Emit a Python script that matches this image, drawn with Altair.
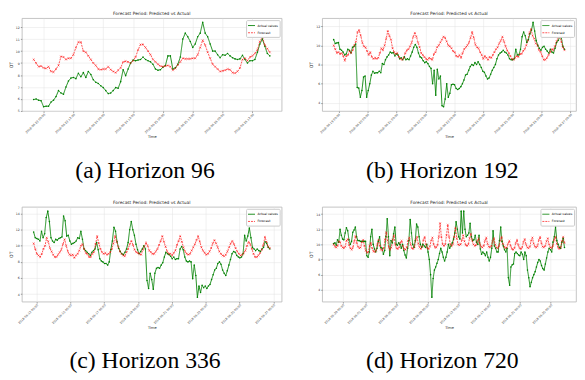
import altair as alt
import pandas as pd

END = "2018-06-26 19:00"
SERIES = ["Actual values", "Forecast"]
COLORS = ["green", "red"]
TITLE = "Forecast Period: Predicted vs Actual"

# ---- (a) Horizon 96 ----
a_actual = [5.95, 6.0, 5.9, 5.85, 5.35, 5.4, 5.4, 5.75, 5.9, 6.2, 6.7, 6.5, 6.4, 7.0, 7.5, 7.75,
            7.8, 7.7, 8.15, 7.85, 8.2, 7.8, 8.3, 8.05, 7.6, 7.4, 7.3, 7.1, 6.95, 6.7, 6.45, 6.5,
            6.7, 6.95, 6.9, 7.45, 8.45, 7.95, 8.5, 9.0, 9.25, 9.2, 9.25, 9.3, 9.5, 9.3, 9.2, 9.1,
            8.9, 8.5, 8.4, 8.45, 8.65, 8.8, 9.6, 9.6, 8.5, 8.6, 8.9, 9.5, 11.0, 11.5, 11.2, 10.8,
            10.3, 10.6, 11.2, 11.5, 12.4, 11.5, 11.2, 10.6, 10.0, 10.0, 9.7, 9.45, 9.7, 9.65, 9.8, 9.6,
            9.45, 9.35, 9.3, 9.35, 9.65, 9.3, 9.0, 9.2, 9.2, 9.3, 9.9, 10.6, 11.0, 10.4, 9.8, 9.6]
a_forecast = [9.3, 9.0, 8.7, 8.75, 8.6, 8.55, 8.7, 8.3, 8.25, 8.5, 8.8, 9.55, 9.5, 9.3, 9.4, 9.4,
              9.7, 10.3, 10.75, 10.75, 10.0, 9.9, 9.6, 9.3, 9.0, 8.8, 8.5, 8.45, 8.5, 8.5, 8.7, 8.45,
              8.3, 8.2, 8.4, 8.6, 9.1, 9.15, 9.1, 9.0, 9.2, 9.5, 10.1, 10.55, 10.55, 10.3, 10.0, 9.7,
              9.3, 9.1, 8.9, 8.75, 8.7, 8.75, 8.8, 8.7, 8.4, 8.55, 8.85, 9.1, 9.4, 9.35, 9.35, 9.35,
              9.4, 9.4, 9.7, 10.3, 10.9, 10.5, 9.9, 9.4, 8.9, 8.7, 8.5, 8.3, 8.35, 8.4, 8.5, 8.45,
              8.2, 8.15, 8.3, 8.6, 9.3, 9.4, 9.2, 9.5, 9.6, 9.8, 10.1, 10.8, 11.15, 10.5, 10.2, 9.9]
a_ticks = ["2018-06-23 00:00", "2018-06-23 12:00", "2018-06-24 00:00", "2018-06-24 12:00",
           "2018-06-25 00:00", "2018-06-25 12:00", "2018-06-26 00:00", "2018-06-26 12:00"]
a_yticks = [5, 6, 7, 8, 9, 10, 11, 12]

# ---- (b) Horizon 192 ----
b_actual = [10.6, 10.2, 10.25, 10.3, 9.6, 9.5, 9.3, 9.0, 9.1, 9.6, 9.5, 9.2, 9.8, 9.9, 10.15, 5.6,
            5.55, 4.6, 5.3, 6.7, 6.8, 4.6, 5.3, 6.0, 6.9, 7.3, 7.1, 7.15, 7.15, 7.3, 7.15, 8.1, 8.0,
            8.5, 8.8, 9.0, 9.3, 9.2, 9.25, 8.9, 9.1, 9.0, 8.6, 8.7, 8.5, 8.8, 8.5, 8.6, 8.5, 8.9, 9.3,
            9.8, 10.1, 9.8, 9.2, 8.8, 8.7, 8.4, 8.2, 8.3, 8.1, 7.8, 7.6, 6.0, 7.4, 4.8, 7.5, 6.5, 6.8,
            3.7, 3.6, 4.4, 6.0, 4.6, 5.0, 5.9, 5.95, 5.9, 5.5, 5.4, 5.5, 5.7, 6.0, 6.4, 6.9, 7.0, 7.4,
            7.8, 8.0, 7.9, 8.2, 8.0, 8.3, 8.0, 7.7, 7.3, 7.2, 6.8, 6.5, 6.6, 7.0, 7.4, 7.7, 8.0, 8.6,
            9.0, 9.2, 9.3, 9.5, 9.3, 9.2, 9.0, 8.6, 8.5, 8.5, 8.6, 9.6, 9.0, 9.0, 9.6, 10.9, 11.4,
            11.0, 10.3, 10.6, 11.2, 11.6, 12.4, 11.5, 10.5, 10.0, 9.7, 9.5, 9.8, 9.9, 9.6, 9.4, 9.2,
            9.6, 9.3, 9.2, 9.7, 10.3, 10.5, 10.9, 10.8, 9.9, 9.6]
b_forecast = [10.0, 9.6, 9.2, 9.3, 9.1, 9.2, 8.9, 8.4, 8.9, 9.0, 9.4, 9.2, 9.5, 10.0, 10.4, 11.4,
              11.6, 11.0, 10.3, 9.9, 9.8, 9.4, 9.0, 9.3, 8.8, 8.6, 8.7, 8.6, 8.7, 9.2, 9.7, 9.5, 10.0,
              10.7, 11.5, 11.0, 10.6, 9.7, 9.3, 9.1, 9.2, 8.8, 8.6, 8.5, 8.7, 9.2, 9.5, 9.6, 9.9, 10.3,
              10.9, 11.3, 10.9, 10.3, 9.8, 9.2, 9.0, 8.8, 8.6, 8.5, 8.7, 8.6, 8.5, 9.1, 9.3, 9.8, 10.0,
              10.3, 10.6, 10.9, 10.8, 10.4, 10.0, 9.9, 9.7, 9.4, 9.3, 8.9, 8.8, 9.0, 8.7, 9.2, 9.6, 9.8,
              10.0, 10.3, 10.8, 11.4, 10.8, 10.1, 9.8, 9.7, 9.3, 9.0, 8.6, 8.9, 8.7, 8.5, 8.8, 8.7, 9.0,
              9.3, 9.6, 9.8, 10.2, 10.5, 10.9, 10.4, 9.9, 9.5, 9.2, 8.9, 8.6, 8.5, 8.7, 8.9, 8.8, 9.1,
              9.1, 9.4, 9.6, 10.0, 10.5, 11.3, 11.7, 11.0, 10.7, 10.2, 10.0, 9.5, 9.3, 8.9, 8.5, 8.5,
              8.7, 9.0, 9.3, 9.6, 9.5, 9.9, 10.4, 10.8, 11.0, 10.4, 9.8, 9.5]
b_ticks = ["2018-06-19 00:00", "2018-06-20 00:00", "2018-06-21 00:00", "2018-06-22 00:00",
           "2018-06-23 00:00", "2018-06-24 00:00", "2018-06-25 00:00", "2018-06-26 00:00",
           "2018-06-27 00:00"]
b_yticks = [4, 6, 8, 10, 12]

# ---- (c) Horizon 336 ----
c_actual = [11.7, 11.0, 10.9, 10.8, 10.6, 11.8, 11.0, 11.5, 13.5, 14.3, 13.0, 11.0, 10.6, 10.4, 10.8,
            10.7, 10.9, 11.0, 11.1, 13.7, 13.1, 11.2, 11.3, 10.6, 10.2, 10.3, 10.4, 10.6, 11.0, 10.9,
            11.8, 10.8, 9.6, 9.4, 9.2, 9.0, 8.8, 9.2, 9.4, 9.6, 10.4, 9.5, 8.4, 8.1, 8.0, 7.8, 7.8, 7.6,
            8.0, 9.5, 10.6, 12.3, 11.8, 10.5, 9.7, 9.3, 9.0, 8.9, 9.2, 9.6, 10.4, 12.0, 13.0, 12.0, 11.3,
            10.2, 9.5, 9.0, 9.3, 9.6, 10.0, 9.6, 5.7, 4.7, 6.6, 5.8, 4.6, 6.6, 7.2, 7.3, 7.2, 7.6, 7.9,
            8.6, 9.2, 9.0, 8.9, 8.7, 8.4, 8.6, 8.3, 8.4, 8.4, 9.6, 9.9, 9.5, 8.6, 8.1, 8.0, 8.1, 8.0,
            5.9, 7.6, 6.3, 3.6, 5.0, 4.2, 5.1, 4.8, 5.0, 4.7, 5.0, 5.2, 5.8, 6.4, 7.0, 7.2, 7.8, 8.0,
            7.7, 7.0, 6.6, 6.3, 6.9, 7.6, 8.3, 9.0, 9.3, 9.2, 8.8, 8.6, 8.5, 8.6, 9.0, 11.3, 10.6, 11.2,
            12.2, 11.0, 9.8, 9.6, 9.4, 9.6, 9.4, 9.3, 9.6, 9.8, 10.5, 10.3, 9.8, 9.6]
c_forecast = [10.3, 9.6, 9.0, 8.8, 8.6, 9.0, 9.6, 10.0, 11.0, 10.5, 9.7, 9.3, 8.9, 8.6, 8.6, 8.9,
              9.2, 9.5, 10.2, 10.8, 10.0, 9.3, 8.9, 8.8, 8.9, 8.5, 8.8, 9.0, 9.4, 10.0, 10.2, 9.6, 9.1,
              9.0, 8.6, 8.6, 9.0, 9.2, 10.2, 11.2, 10.3, 9.6, 9.2, 9.0, 9.1, 8.9, 9.0, 9.2, 9.6, 10.3,
              11.2, 10.5, 9.8, 9.3, 9.0, 8.8, 8.7, 9.2, 9.6, 10.2, 10.6, 10.1, 9.5, 9.2, 9.1, 9.0, 8.9,
              9.5, 9.9, 10.4, 10.0, 9.4, 9.2, 9.0, 9.0, 9.3, 9.6, 10.1, 10.6, 11.2, 10.5, 9.9, 9.3, 9.0,
              9.0, 8.8, 9.1, 9.4, 10.1, 10.6, 11.2, 10.5, 9.8, 9.3, 9.0, 8.9, 9.0, 9.4, 9.8, 10.2, 10.7,
              11.2, 10.5, 9.8, 9.4, 9.1, 8.9, 9.0, 9.3, 9.7, 10.3, 10.7, 10.3, 9.8, 9.3, 9.0, 8.8, 8.7,
              8.9, 9.3, 9.8, 10.3, 10.6, 10.2, 9.7, 9.3, 9.0, 8.8, 8.9, 9.1, 9.4, 10.0, 10.5, 10.2, 9.6,
              9.0, 8.6, 8.6, 8.8, 9.1, 9.5, 10.1, 11.1, 10.5, 9.9, 9.7]
c_ticks = ["2018-06-13 00:00", "2018-06-15 00:00", "2018-06-17 00:00", "2018-06-19 00:00",
           "2018-06-21 00:00", "2018-06-23 00:00", "2018-06-25 00:00", "2018-06-27 00:00"]
c_yticks = [4, 6, 8, 10, 12, 14]

# ---- (d) Horizon 720 ----
d_actual = [10.1, 10.2, 9.9, 10.6, 10.3, 12.0, 11.2, 10.7, 10.6, 11.5, 12.2, 11.8, 10.6, 10.0, 10.4,
            11.6, 11.9, 12.3, 11.0, 10.5, 10.5, 10.4, 10.4, 10.4, 10.4, 10.4, 8.5, 8.3, 9.0, 11.0, 12.0,
            10.0, 9.4, 9.0, 9.5, 10.4, 11.0, 9.6, 9.5, 8.7, 9.2, 11.0, 13.4, 11.0, 8.5, 10.5, 10.2, 11.4,
            12.3, 10.0, 9.9, 10.2, 10.0, 9.5, 10.0, 9.2, 8.6, 8.2, 9.5, 10.5, 13.3, 11.5, 10.0, 9.6, 10.5,
            12.7, 12.3, 11.0, 10.0, 9.6, 10.0, 9.8, 9.6, 10.0, 9.0, 8.0, 6.0, 3.0, 5.5, 6.6, 7.0, 7.5,
            8.0, 8.8, 9.5, 9.0, 8.3, 7.8, 8.3, 9.0, 10.0, 9.5, 9.8, 10.2, 10.7, 11.5, 13.0, 12.0, 11.0,
            10.7, 14.4, 11.5, 14.4, 12.0, 11.0, 11.2, 11.5, 12.8, 11.0, 10.5, 10.6, 11.2, 10.3, 10.0,
            11.2, 9.4, 8.7, 9.0, 8.8, 8.5, 9.0, 8.3, 7.8, 8.3, 9.5, 11.8, 9.8, 9.5, 9.0, 9.0, 10.5,
            12.3, 10.4, 9.8, 9.3, 9.0, 9.5, 5.6, 4.6, 7.0, 7.3, 7.4, 8.8, 9.0, 8.8, 8.6, 8.5, 9.0, 8.7,
            8.0, 9.0, 8.5, 6.6, 5.6, 4.4, 5.0, 5.6, 6.0, 6.4, 7.0, 7.6, 8.0, 7.8, 7.2, 6.8, 6.6, 7.4,
            8.2, 9.0, 9.5, 9.3, 9.0, 10.3, 11.0, 12.3, 10.5, 10.0, 9.6, 9.5, 10.3, 10.8, 9.6]
d_forecast = [10.0, 9.7, 9.6, 9.8, 10.4, 10.3, 9.8, 9.6, 9.5, 9.7, 10.5, 10.7, 9.9, 9.5, 9.3, 9.6,
              10.4, 11.1, 10.2, 9.7, 9.5, 9.6, 10.3, 10.6, 9.8, 9.2, 8.9, 9.0, 9.8, 10.2, 9.5, 9.1, 9.0,
              9.2, 10.0, 10.6, 9.8, 9.3, 9.2, 9.5, 10.6, 11.6, 10.5, 9.6, 9.3, 9.6, 10.6, 11.2, 10.0,
              9.5, 9.4, 9.6, 10.2, 10.5, 9.8, 9.4, 9.3, 9.6, 10.5, 10.9, 10.0, 9.5, 9.4, 9.7, 10.6, 11.0,
              10.1, 9.6, 9.4, 9.7, 10.6, 11.0, 10.0, 9.5, 9.4, 9.7, 10.5, 10.9, 10.0, 9.6, 9.6, 9.9,
              11.0, 12.8, 11.0, 10.0, 9.8, 10.0, 11.2, 12.6, 11.0, 10.0, 9.8, 10.0, 11.0, 12.2, 10.8,
              10.0, 9.9, 10.0, 10.6, 11.2, 10.4, 9.9, 9.8, 10.0, 10.8, 11.4, 10.5, 10.0, 9.8, 9.9, 10.4,
              10.8, 10.1, 9.7, 9.6, 9.8, 10.5, 10.9, 10.1, 9.7, 9.6, 9.8, 10.4, 10.8, 10.0, 9.6, 9.5,
              9.8, 10.6, 11.0, 10.1, 9.7, 9.5, 9.6, 10.1, 10.5, 9.8, 9.4, 9.3, 9.5, 10.2, 10.6, 9.9,
              9.5, 9.4, 9.6, 10.3, 10.7, 10.0, 9.6, 9.5, 9.7, 10.5, 10.9, 10.1, 9.7, 9.6, 9.8, 10.6,
              11.0, 10.2, 9.7, 9.6, 9.8, 10.4, 10.8, 10.0, 9.6, 9.5, 9.8, 10.6, 11.0, 10.1, 9.6, 9.4,
              9.6, 10.4, 11.0, 10.2]
d_ticks = ["2018-05-29 00:00", "2018-06-01 00:00", "2018-06-05 00:00", "2018-06-09 00:00",
           "2018-06-13 00:00", "2018-06-17 00:00", "2018-06-21 00:00", "2018-06-25 00:00"]
d_yticks = [4, 6, 8, 10, 12, 14]

FONT = "DejaVu Sans"
SERIF = "Liberation Serif, Times New Roman, serif"
X_PATH = "M-1,-1L1,1M-1,1L1,-1"


def dt(ts):
    ts = pd.Timestamp(ts)
    return alt.DateTime(year=ts.year, month=ts.month, date=ts.day,
                        hours=ts.hour, minutes=ts.minute, seconds=ts.second)


def legend():
    return alt.Legend(title=None, orient="top-right", offset=2, labelFontSize=3.1,
                      labelFont=FONT, padding=1.5, rowPadding=0.3, symbolSize=50,
                      symbolStrokeWidth=0.9, labelOffset=2, strokeColor="#cccccc",
                      fillColor="white", cornerRadius=1, labelLimit=100)


def panel(actual, forecast, horizon, ticks, yticks, width, height, caption, cap_offset):
    end = pd.Timestamp(END)
    start = end - pd.Timedelta(hours=horizon - 1)
    ta = pd.date_range(start, end, periods=len(actual)).round("s")
    tf = pd.date_range(start, end, periods=len(forecast)).round("s")
    df = pd.concat([
        pd.DataFrame({"Time": ta, "OT": actual, "series": SERIES[0]}),
        pd.DataFrame({"Time": tf, "OT": forecast, "series": SERIES[1]}),
    ], ignore_index=True)
    span = end - start
    xdom = [dt(start - span * 0.05), dt(end + span * 0.05)]
    lo, hi = min(actual + forecast), max(actual + forecast)
    r = hi - lo
    ydom = [lo - 0.05 * r, hi + 0.05 * r]

    x = alt.X("Time:T", scale=alt.Scale(domain=xdom),
              axis=alt.Axis(values=[dt(t) for t in ticks], format="%Y-%m-%d %H:%M",
                            labelAngle=-45, labelAlign="right", labelBaseline="top",
                            labelFlush=False, labelOverlap=False, labelFontSize=3.0,
                            labelPadding=0.5, title="Time", titleFontSize=3.6,
                            titlePadding=1))
    y = alt.Y("OT:Q", scale=alt.Scale(domain=ydom, nice=False, zero=False),
              axis=alt.Axis(values=yticks, labelFontSize=3.2, title="OT",
                            titleFontSize=4.6, titlePadding=2, labelPadding=1))
    color = alt.Color("series:N", scale=alt.Scale(domain=SERIES, range=COLORS),
                      legend=legend())
    dash = alt.StrokeDash("series:N",
                          scale=alt.Scale(domain=SERIES, range=[[1, 0], [2, 1]]),
                          legend=legend())
    base = alt.Chart(df)
    lines = base.mark_line(strokeWidth=0.9).encode(
        x=x, y=y, color=color, strokeDash=dash,
        opacity=alt.Opacity("series:N", scale=alt.Scale(domain=SERIES, range=[1.0, 0.75]),
                            legend=None),
        detail="series:N")
    pts_a = base.transform_filter(alt.datum.series == SERIES[0]).mark_point(
        shape="circle", filled=True, size=2.5, opacity=1, color="green").encode(x=x, y=y)
    pts_f = base.transform_filter(alt.datum.series == SERIES[1]).mark_point(
        shape=X_PATH, filled=False, size=4, strokeWidth=0.5, opacity=0.8,
        color="red").encode(x=x, y=y)
    layer = alt.layer(lines, pts_a, pts_f).properties(
        width=width, height=height,
        title=alt.TitleParams(TITLE, fontSize=4.4, font=FONT, fontWeight="normal",
                              color="#222222", offset=1.5))
    return alt.vconcat(layer).properties(
        title=alt.TitleParams(caption, orient="bottom", anchor="middle",
                              font=SERIF, fontSize=24, fontWeight="normal",
                              color="black", offset=cap_offset)
    ).resolve_scale(color="independent", strokeDash="independent", opacity="independent")


pa = panel(a_actual, a_forecast, 96, a_ticks, a_yticks, 263, 94, "(a) Horizon 96", 21)
pb = panel(b_actual, b_forecast, 192, b_ticks, b_yticks, 257, 94, "(b) Horizon 192", 21)
pc = panel(c_actual, c_forecast, 336, c_ticks, c_yticks, 263, 96, "(c) Horizon 336", 20)
pd_ = panel(d_actual, d_forecast, 720, d_ticks, d_yticks, 257, 96, "(d) Horizon 720", 20)

row1 = alt.hconcat(pa, pb, spacing=26).resolve_scale(
    color="independent", strokeDash="independent", opacity="independent")
row2 = alt.hconcat(pc, pd_, spacing=26).resolve_scale(
    color="independent", strokeDash="independent", opacity="independent")

chart = alt.vconcat(row1, row2, spacing=15).resolve_scale(
    color="independent", strokeDash="independent", opacity="independent"
).properties(
    padding={"left": 0, "top": 0, "right": 0, "bottom": 0}
).configure_axis(
    labelFont=FONT, titleFont=FONT, labelColor="#333333", titleColor="#222222",
    titleFontWeight="normal", domain=False, tickSize=1.5, tickWidth=0.5,
    tickColor="#444444", grid=True, gridColor="#e3e3e3", gridWidth=0.5
).configure_view(
    stroke="#b5b5b5", strokeWidth=0.8
).configure_concat(spacing=0)

chart.save("out.html", embed_options={"renderer": "svg", "actions": False})
